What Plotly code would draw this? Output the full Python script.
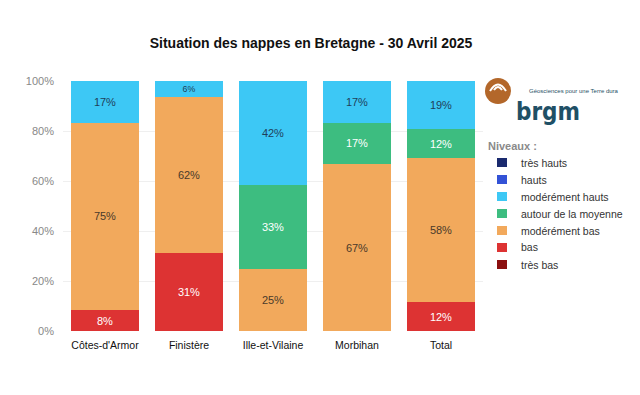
import plotly.graph_objects as go

# ---- data ----
categories = ["Côtes-d'Armor", "Finistère", "Ille-et-Vilaine", "Morbihan", "Total"]
tres_bas = [0, 0, 0, 0, 0]
bas = [8.33, 31.25, 0, 0, 11.5]
moderement_bas = [75.0, 62.5, 25.0, 66.67, 57.7]
autour_moyenne = [0, 0, 33.33, 16.67, 11.5]
moderement_hauts = [16.67, 6.25, 41.67, 16.67, 19.3]
hauts = [0, 0, 0, 0, 0]
tres_hauts = [0, 0, 0, 0, 0]
y_ticks = [0, 20, 40, 60, 80, 100]
y_ticklabels = ["0%", "20%", "40%", "60%", "80%", "100%"]

series = [
    ("très bas", tres_bas, "#8b1010", "white"),
    ("bas", bas, "#dd3333", "white"),
    ("modérément bas", moderement_bas, "#f2a95c", "#4a3a2a"),
    ("autour de la moyenne", autour_moyenne, "#3dbd80", "white"),
    ("modérément hauts", moderement_hauts, "#3dc8f5", "#1f3f5a"),
    ("hauts", hauts, "#3352d6", "white"),
    ("très hauts", tres_hauts, "#1a2a6e", "white"),
]

FONT = "Liberation Sans, Arial, sans-serif"

fig = go.Figure()
for name, vals, color, tcolor in series:
    fig.add_trace(go.Bar(
        name=name, x=categories, y=vals,
        marker=dict(color=color, line=dict(width=0)),
        text=[f"{round(v)}%" if v > 0 else "" for v in vals],
        textposition="inside", insidetextanchor="middle",
        textfont=dict(color=tcolor, size=11, family=FONT),
        hoverinfo="skip", showlegend=False,
    ))

# page body has an 8px margin: work in screen pixels, shift by OFF
OFF = 8
W, H = 640 - OFF, 395 - OFF
L, T = 63 - OFF, 81 - OFF
R = W - (483 - OFF)
B = H - (331 - OFF)
pw, ph = W - L - R, H - T - B

def px(x):
    return (x - OFF - L) / pw

def py(y):
    return (H - B - (y - OFF)) / ph

# logo
shapes = [
    dict(type="circle", xref="paper", yref="paper",
         x0=px(485), x1=px(511), y0=py(104), y1=py(78),
         fillcolor="#b3672a", line=dict(width=0), layer="above"),
    dict(type="path", xref="paper", yref="paper",
         path=f"M {px(490)},{py(91)} Q {px(498)},{py(78)} {px(506)},{py(91)}",
         line=dict(color="white", width=2), layer="above"),
    dict(type="path", xref="paper", yref="paper",
         path=f"M {px(494)},{py(90)} Q {px(498)},{py(84)} {px(502)},{py(90)}",
         line=dict(color="white", width=2), layer="above"),
]

annotations = [
    dict(text="brgm", xref="paper", yref="paper", x=px(514), y=py(112),
         xanchor="left", yanchor="middle", showarrow=False,
         font=dict(family="DejaVu Sans Condensed, Liberation Sans", size=24,
                   color="#1f5066", weight=600)),
    dict(text="Géosciences pour une Terre dura", xref="paper", yref="paper",
         x=px(527), y=py(91), xanchor="left", yanchor="middle", showarrow=False,
         font=dict(family=FONT, size=6, color="#1f5066")),
    dict(text="<b>Niveaux :</b>", xref="paper", yref="paper",
         x=px(486), y=py(146), xanchor="left", yanchor="middle", showarrow=False,
         font=dict(family=FONT, size=11, color="#8a8a8a")),
]

# manual legend (top to bottom: très hauts ... très bas)
for i, (name, vals, color, tcolor) in enumerate(reversed(series)):
    yc = 162.5 + i * 17
    shapes.append(dict(type="rect", xref="paper", yref="paper",
                       x0=px(497), x1=px(507), y0=py(yc + 4.5), y1=py(yc - 4.5),
                       fillcolor=color, line=dict(width=0)))
    annotations.append(dict(text=name, xref="paper", yref="paper",
                            x=px(519), y=py(yc), xanchor="left", yanchor="middle",
                            showarrow=False,
                            font=dict(family=FONT, size=10.5, color="#333")))

fig.update_layout(
    width=W, height=H,
    barmode="stack", bargap=0.19,
    plot_bgcolor="white", paper_bgcolor="white",
    margin=dict(l=L, r=R, t=T, b=B, autoexpand=False),
    showlegend=False,
    title=dict(text="<b>Situation des nappes en Bretagne - 30 Avril 2025</b>",
               x=(311 - OFF) / W, xanchor="center", xref="container",
               y=1 - (43 - OFF) / H, yref="container", yanchor="middle",
               font=dict(family=FONT, size=14, color="#111")),
    font=dict(family=FONT),
    xaxis=dict(tickfont=dict(size=10.5, color="#111"), showgrid=False,
               showline=False, ticks="", ticklabelstandoff=6),
    yaxis=dict(range=[0, 100], tickvals=y_ticks, ticktext=y_ticklabels,
               tickfont=dict(size=11, color="#888"), showgrid=True,
               gridcolor="#efefef", zeroline=False, ticks="", ticklabelstandoff=8),
    shapes=shapes,
    annotations=annotations,
)

fig.write_html("out.html")
